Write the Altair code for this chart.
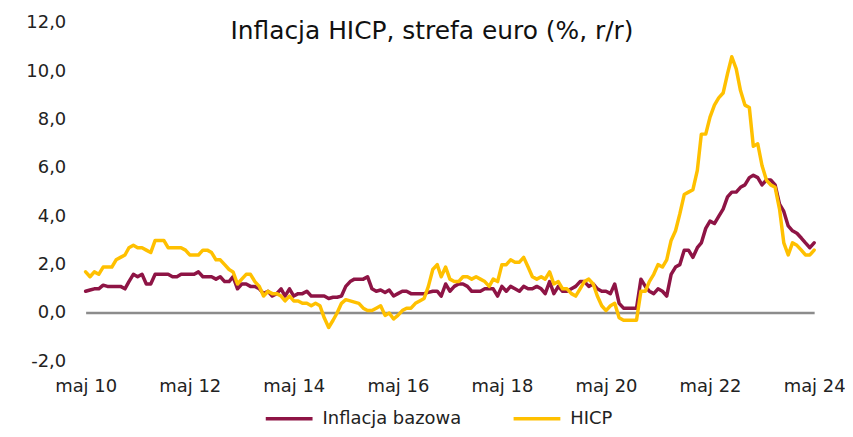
import altair as alt
import pandas as pd

# Monthly observations, May 2010 - May 2024
dates = pd.date_range("2010-05-01", "2024-05-01", freq="MS").strftime("%Y-%m-%d").tolist()

core = [
    0.9, 0.95, 1.0, 1.0, 1.15, 1.1, 1.1, 1.1,                      # 2010 (May-Dec)
    1.1, 1.0, 1.3, 1.6, 1.5, 1.6, 1.2, 1.2, 1.6, 1.6, 1.6, 1.6,    # 2011
    1.5, 1.5, 1.6, 1.6, 1.6, 1.6, 1.7, 1.5, 1.5, 1.5, 1.4, 1.5,    # 2012
    1.3, 1.3, 1.5, 1.0, 1.2, 1.2, 1.1, 1.1, 1.0, 0.8, 0.9, 0.7,    # 2013
    0.8, 1.0, 0.7, 1.0, 0.7, 0.8, 0.8, 0.9, 0.7, 0.7, 0.7, 0.7,    # 2014
    0.6, 0.65, 0.65, 0.7, 1.1, 1.3, 1.4, 1.4, 1.4, 1.5, 1.0, 0.9,  # 2015
    0.95, 0.85, 0.95, 0.7, 0.8, 0.9, 0.9, 0.8, 0.8, 0.8, 0.8, 0.85,  # 2016
    0.9, 0.9, 0.7, 1.2, 0.9, 1.1, 1.2, 1.2, 1.1, 0.9, 0.9, 0.9,    # 2017
    1.0, 1.0, 1.0, 0.7, 1.1, 0.9, 1.1, 1.0, 0.9, 1.1, 1.0, 1.0,    # 2018
    1.1, 1.0, 0.8, 1.3, 0.8, 1.1, 0.9, 0.9, 1.0, 1.1, 1.3, 1.3,    # 2019
    1.1, 1.2, 1.0, 0.9, 0.9, 0.8, 1.2, 0.4, 0.2, 0.2, 0.2, 0.2,    # 2020
    1.4, 1.1, 0.9, 0.8, 1.0, 0.9, 0.7, 1.6, 1.9, 2.0, 2.6, 2.6,    # 2021
    2.3, 2.7, 2.9, 3.5, 3.8, 3.7, 4.0, 4.3, 4.8, 5.0, 5.0, 5.2,    # 2022
    5.3, 5.6, 5.7, 5.6, 5.3, 5.5, 5.5, 5.3, 4.5, 4.2, 3.6, 3.4,    # 2023
    3.3, 3.1, 2.9, 2.7, 2.9,                                       # 2024 (Jan-May)
]

hicp = [
    1.7, 1.5, 1.7, 1.6, 1.9, 1.9, 1.9, 2.2,                        # 2010 (May-Dec)
    2.3, 2.4, 2.7, 2.8, 2.7, 2.7, 2.6, 2.5, 3.0, 3.0, 3.0, 2.7,    # 2011
    2.7, 2.7, 2.7, 2.6, 2.4, 2.4, 2.4, 2.6, 2.6, 2.5, 2.2, 2.2,    # 2012
    2.0, 1.8, 1.7, 1.2, 1.4, 1.6, 1.6, 1.3, 1.1, 0.7, 0.9, 0.8,    # 2013
    0.8, 0.7, 0.5, 0.7, 0.5, 0.5, 0.4, 0.4, 0.3, 0.4, 0.3, -0.2,   # 2014
    -0.6, -0.3, 0.0, 0.4, 0.55, 0.5, 0.45, 0.4, 0.2, 0.1, 0.1, 0.2,  # 2015
    0.3, -0.1, 0.0, -0.25, -0.1, 0.1, 0.2, 0.2, 0.4, 0.5, 0.6, 1.1,  # 2016
    1.8, 2.0, 1.5, 1.9, 1.4, 1.3, 1.3, 1.5, 1.5, 1.4, 1.5, 1.4,    # 2017
    1.3, 1.1, 1.4, 1.3, 2.0, 2.0, 2.2, 2.1, 2.1, 2.3, 1.9, 1.5,    # 2018
    1.4, 1.5, 1.4, 1.7, 1.2, 1.3, 1.0, 1.0, 0.8, 0.7, 1.0, 1.3,    # 2019
    1.4, 1.2, 0.7, 0.3, 0.1, 0.3, 0.4, -0.2, -0.3, -0.3, -0.3, -0.3,  # 2020
    0.9, 0.9, 1.3, 1.6, 2.0, 1.9, 2.2, 3.0, 3.4, 4.1, 4.9, 5.0,    # 2021
    5.1, 5.9, 7.4, 7.4, 8.1, 8.6, 8.9, 9.1, 9.9, 10.6, 10.1, 9.2,  # 2022
    8.6, 8.5, 6.9, 7.0, 6.1, 5.5, 5.3, 5.2, 4.3, 2.9, 2.4, 2.9,    # 2023
    2.8, 2.6, 2.4, 2.4, 2.6,                                       # 2024 (Jan-May)
]

series_names = ["Inflacja bazowa", "HICP"]
series_colors = ["#8E1445", "#FFC000"]
y_ticks = [-2, 0, 2, 4, 6, 8, 10, 12]
label_years = list(range(2010, 2025, 2))
title_text = "Inflacja HICP, strefa euro (%, r/r)"

FONT = "DejaVu Sans"
TEXT_COLOR = "#222222"

df = pd.DataFrame({
    "date": dates * 2,
    "value": core + hicp,
    "series": [series_names[0]] * len(dates) + [series_names[1]] * len(dates),
})

# y axis: labels with decimal comma; only the 0 gridline is shown (the baseline)
y_axis = alt.Axis(
    title=None,
    values=y_ticks,
    labelExpr="replace(replace(format(datum.value, '.1f'), '.', ','), '−', '-')",
    domain=False, ticks=False, tickSize=0,
    grid=True, gridColor="#8C8C8C", gridWidth=2.5,
    gridOpacity=alt.condition("datum.value === 0", alt.value(1), alt.value(0)),
    labelPadding=20, labelFontSize=18, labelFont=FONT, labelColor=TEXT_COLOR,
)

x_scale = alt.Scale(
    type="utc",
    domain=[alt.DateTime(year=2010, month=5, date=1, utc=True),
            alt.DateTime(year=2024, month=5, date=1, utc=True)],
    nice=False,
)
x_axis = alt.Axis(
    title=None,
    values=[alt.DateTime(year=y, month=5, date=1, utc=True) for y in label_years],
    labelExpr="'maj ' + utcFormat(datum.value, '%y')",
    domain=False, ticks=False, tickSize=0, grid=False,
    labelPadding=16, labelFontSize=18, labelFont=FONT, labelColor=TEXT_COLOR,
    labelFlush=False,
)

chart = alt.Chart(df).mark_line(strokeWidth=3.5, strokeJoin="round", strokeCap="round").encode(
    x=alt.X("date:T", scale=x_scale, axis=x_axis),
    y=alt.Y("value:Q", scale=alt.Scale(domain=[-2, 12], nice=False, zero=False), axis=y_axis),
    color=alt.Color(
        "series:N",
        scale=alt.Scale(domain=series_names, range=series_colors),
        legend=alt.Legend(
            title=None, orient="none", legendX=179, legendY=372,
            direction="horizontal", symbolType="stroke", symbolSize=2209,
            symbolStrokeWidth=3.5, labelFontSize=18, labelFont=FONT,
            labelColor=TEXT_COLOR, labelOffset=8, columnPadding=45, padding=0,
        ),
    ),
).properties(
    width=732,
    height=340,
    view=alt.ViewBackground(stroke="transparent", strokeWidth=0, strokeOpacity=0),
    title=alt.TitleParams(
        text=title_text, fontSize=25, font=FONT, fontWeight="normal",
        color="#111111", anchor="middle", frame="group", dx=-18, dy=34,
    ),
    autosize=alt.AutoSizeParams(type="none"),
    padding={"left": 78, "top": 14, "right": 31, "bottom": 67},
).configure_view(
    stroke="transparent", strokeWidth=0, strokeOpacity=0
).configure(background="white")

chart.save("out.html", embed_options={"renderer": "svg", "actions": False})
